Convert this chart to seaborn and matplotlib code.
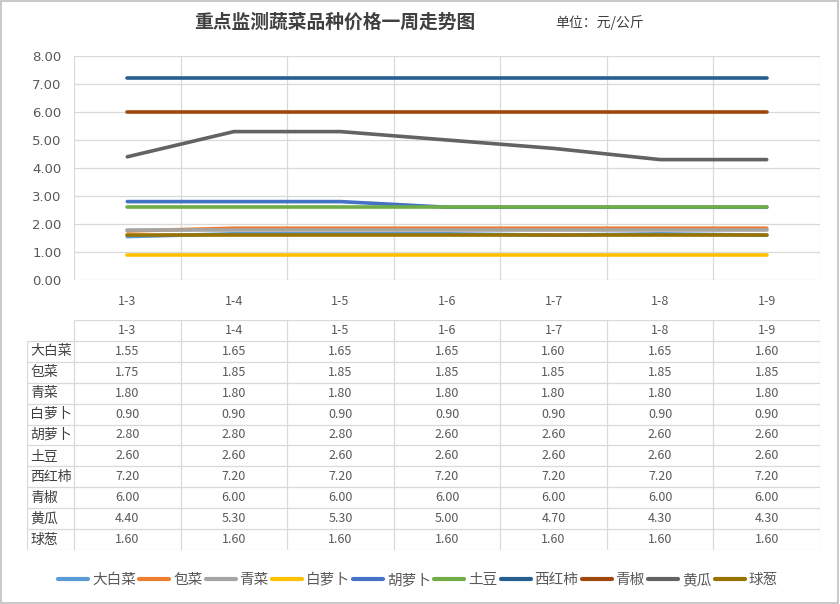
import numpy as np
import pandas as pd
import matplotlib
matplotlib.use('Agg')
import matplotlib.pyplot as plt
import seaborn as sns
from matplotlib.patches import Rectangle

sns.set_theme(style="white")
plt.rcParams['font.family'] = ['Noto Sans CJK SC', 'DejaVu Sans']

dates = ['1-3', '1-4', '1-5', '1-6', '1-7', '1-8', '1-9']
veg_names = ['大白菜', '包菜', '青菜', '白萝卜', '胡萝卜', '土豆', '西红柿', '青椒', '黄瓜', '球葱']
dabaicai = [1.55, 1.65, 1.65, 1.65, 1.60, 1.65, 1.60]
baocai = [1.75, 1.85, 1.85, 1.85, 1.85, 1.85, 1.85]
qingcai = [1.80, 1.80, 1.80, 1.80, 1.80, 1.80, 1.80]
bailuobo = [0.90, 0.90, 0.90, 0.90, 0.90, 0.90, 0.90]
huluobo = [2.80, 2.80, 2.80, 2.60, 2.60, 2.60, 2.60]
tudou = [2.60, 2.60, 2.60, 2.60, 2.60, 2.60, 2.60]
xihongshi = [7.20, 7.20, 7.20, 7.20, 7.20, 7.20, 7.20]
qingjiao = [6.00, 6.00, 6.00, 6.00, 6.00, 6.00, 6.00]
huanggua = [4.40, 5.30, 5.30, 5.00, 4.70, 4.30, 4.30]
qiucong = [1.60, 1.60, 1.60, 1.60, 1.60, 1.60, 1.60]
series = [dabaicai, baocai, qingcai, bailuobo, huluobo, tudou,
          xihongshi, qingjiao, huanggua, qiucong]
colors = ['#5B9BD5', '#ED7D31', '#A5A5A5', '#FFC000', '#4472C4',
          '#70AD47', '#255E91', '#9E480E', '#636363', '#997300']

W, H = 840, 604
text_col = '#595959'
grid_col = '#D9D9D9'

df = pd.DataFrame({
    'date_idx': np.tile(np.arange(len(dates)), len(veg_names)),
    'veg': np.repeat(veg_names, len(dates)),
    'price': np.concatenate(series),
})

fig = plt.figure(figsize=(W / 100, H / 100), dpi=100)
fig.patch.set_facecolor('white')

# main chart area (pixel coords converted to figure fractions)
left, right = 74, 820
top, bottom = 56, 280
ax = fig.add_axes([left / W, 1 - bottom / H, (right - left) / W, (bottom - top) / H])

sns.lineplot(data=df, x='date_idx', y='price', hue='veg', hue_order=veg_names,
             palette=dict(zip(veg_names, colors)), linewidth=2.6, sort=False,
             estimator=None, ax=ax)

ax.set_xlim(-0.5, len(dates) - 0.5)
ax.set_ylim(0, 8)
ax.set_yticks(np.arange(0, 9, 1))
ax.set_yticklabels([f'{v:.2f}' for v in np.arange(0, 9, 1)], color=text_col, fontsize=9.5,
                   family=['DejaVu Sans'])
ax.set_xticks(np.arange(len(dates)))
ax.set_xticklabels(dates, color=text_col, fontsize=9)
ax.tick_params(axis='both', length=0)
ax.tick_params(axis='x', pad=11)
ax.tick_params(axis='y', pad=9)
for b in np.arange(-0.5, len(dates), 1):
    ax.axvline(b, color=grid_col, lw=0.9, zorder=0)
for v in range(9):
    ax.axhline(v, color=grid_col, lw=0.9, zorder=0)
for s in ax.spines.values():
    s.set_visible(False)
ax.set_xlabel('')
ax.set_ylabel('')

handles, labels = ax.get_legend_handles_labels()
ax.get_legend().remove()
for h in handles:
    h.set_linewidth(3)
fig.legend(handles, labels, loc='center', bbox_to_anchor=(418 / W, 1 - 580 / H), ncol=10,
           frameon=False, fontsize=10.5, handlelength=2.05, handletextpad=0.25,
           columnspacing=0.25, labelcolor=text_col)

# data table
unit = (right - left) / len(dates)
t_left, t_top, t_bottom = 27, 320, 550
tax = fig.add_axes([t_left / W, 1 - t_bottom / H, (right - t_left) / W, (t_bottom - t_top) / H])
x0 = -0.5 - (left - t_left) / unit
tax.set_xlim(x0, len(dates) - 0.5)
nrows = len(veg_names) + 1
tax.set_ylim(nrows, 0)
tax.axis('off')

# horizontal lines
tax.hlines(0, -0.5, len(dates) - 0.5, color=grid_col, lw=0.9)
for r in range(1, nrows + 1):
    tax.hlines(r, x0, len(dates) - 0.5, color=grid_col, lw=0.9)
# vertical lines
tax.vlines(x0, 1, nrows, color=grid_col, lw=0.9)
for b in np.arange(-0.5, len(dates), 1):
    tax.vlines(b, 0, nrows, color=grid_col, lw=0.9)

for j, d in enumerate(dates):
    tax.text(j, 0.5, d, ha='center', va='center', color=text_col, fontsize=9)
for i, (name, vals) in enumerate(zip(veg_names, series)):
    tax.text(x0 + 0.03, i + 1.5, name, ha='left', va='center', color='#404040', fontsize=10)
    for j, v in enumerate(vals):
        tax.text(j, i + 1.5, f'{v:.2f}', ha='center', va='center', color=text_col, fontsize=9)

fig.text(335 / W, 1 - 22 / H, '重点监测蔬菜品种价格一周走势图', ha='center', va='center',
         fontsize=13.5, weight='bold', color='#404040')
fig.text(600 / W, 1 - 23 / H, '单位：元/公斤', ha='center', va='center',
         fontsize=10, color='#404040')

fig.patches.append(Rectangle((0.001, 0.002), 0.997, 0.996, transform=fig.transFigure,
                             fill=False, edgecolor='#BFBFBF', lw=1.2))

fig.savefig('out.png', dpi=100)
